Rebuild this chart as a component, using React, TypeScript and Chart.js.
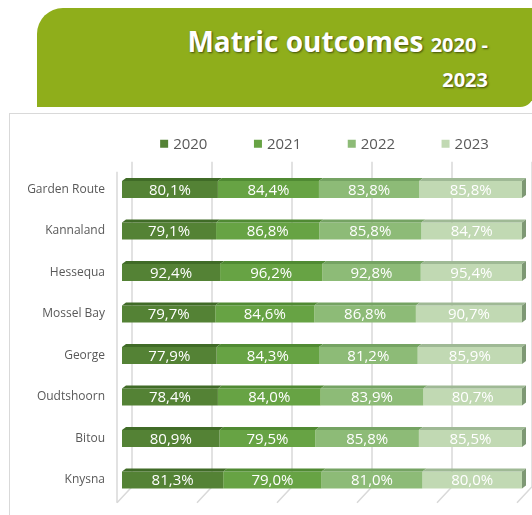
import React, { useEffect, useRef } from 'react';
import { Chart, registerables } from 'chart.js';

Chart.register(...registerables);

const categories = ['Garden Route', 'Kannaland', 'Hessequa', 'Mossel Bay', 'George', 'Oudtshoorn', 'Bitou', 'Knysna'];
const seriesLabels = ['2020', '2021', '2022', '2023'];
const v2020 = [80.1, 79.1, 92.4, 79.7, 77.9, 78.4, 80.9, 81.3];
const v2021 = [84.4, 86.8, 96.2, 84.6, 84.3, 84.0, 79.5, 79.0];
const v2022 = [83.8, 85.8, 92.8, 86.8, 81.2, 83.9, 85.8, 81.0];
const v2023 = [85.8, 84.7, 95.4, 90.7, 85.9, 80.7, 85.5, 80.0];
const gridTicks = [0, 20, 40, 60, 80, 100];

const seriesValues = [v2020, v2021, v2022, v2023];
const frontColors = ['#548235', '#67a344', '#8dbb77', '#c1d9b3'];
const topColors = ['#406b27', '#508a33', '#75a363', '#9fb995'];
const sideColor = '#7e9874';
const FONT = "'Open Sans', 'DejaVu Sans', sans-serif";

const totals = categories.map((_, i) => seriesValues.reduce((s, arr) => s + arr[i], 0));
const fmt = (v: number) => v.toFixed(1).replace('.', ',') + '%';

const bar3dPlugin = {
  id: 'bar3d',
  beforeDatasetsDraw(chart: any) {
    const { ctx, chartArea, scales } = chart;
    const x = scales.x;
    ctx.save();
    ctx.strokeStyle = '#d9d9d9';
    ctx.lineWidth = 1.5;
    gridTicks.forEach((t) => {
      const xf = x.getPixelForValue(t);
      ctx.beginPath();
      ctx.moveTo(xf + 10, chartArea.top - 7);
      ctx.lineTo(xf + 10, chartArea.bottom - 14);
      ctx.lineTo(xf - 5, chartArea.bottom + 2);
      ctx.stroke();
    });
    const x0 = x.getPixelForValue(0);
    ctx.beginPath();
    ctx.moveTo(x0 - 5, chartArea.top + 3);
    ctx.lineTo(x0 - 5, chartArea.bottom + 2);
    ctx.stroke();
    ctx.restore();
  },
  afterDatasetsDraw(chart: any) {
    const { ctx } = chart;
    const n = chart.data.datasets.length;
    ctx.save();
    for (let d = 0; d < n; d++) {
      const meta = chart.getDatasetMeta(d);
      meta.data.forEach((el: any) => {
        const p = el.getProps(['x', 'y', 'base', 'height'], true);
        const l = Math.min(p.x, p.base);
        const r = Math.max(p.x, p.base);
        const top = p.y - p.height / 2;
        const bot = p.y + p.height / 2;
        ctx.fillStyle = topColors[d];
        ctx.beginPath();
        ctx.moveTo(l, top);
        ctx.lineTo(r, top);
        ctx.lineTo(r + 4, top - 3);
        ctx.lineTo(l + 4, top - 3);
        ctx.closePath();
        ctx.fill();
        if (d === n - 1) {
          ctx.fillStyle = sideColor;
          ctx.beginPath();
          ctx.moveTo(r, top);
          ctx.lineTo(r + 4, top - 3);
          ctx.lineTo(r + 4, bot - 3);
          ctx.lineTo(r, bot);
          ctx.closePath();
          ctx.fill();
        }
      });
    }
    ctx.fillStyle = '#ffffff';
    ctx.font = `15px ${FONT}`;
    ctx.textAlign = 'center';
    ctx.textBaseline = 'middle';
    for (let d = 0; d < n; d++) {
      const meta = chart.getDatasetMeta(d);
      meta.data.forEach((el: any, i: number) => {
        const p = el.getProps(['x', 'y', 'base'], true);
        ctx.fillText(fmt(seriesValues[d][i]), (p.x + p.base) / 2, p.y + 1);
      });
    }
    ctx.restore();
  },
  afterDraw(chart: any) {
    const { ctx, chartArea } = chart;
    const datasets = chart.data.datasets;
    ctx.save();
    ctx.font = `15px ${FONT}`;
    ctx.textBaseline = 'middle';
    ctx.textAlign = 'left';
    const box = 8;
    const gapText = 5;
    const gap = 46.5;
    const widths = datasets.map((ds: any) => box + gapText + ctx.measureText(ds.label).width);
    const total = widths.reduce((a: number, b: number) => a + b, 0) + gap * (datasets.length - 1);
    let cx = (chartArea.left + chartArea.right) / 2 + 2.5 - total / 2;
    const cy = chartArea.top - 25;
    datasets.forEach((ds: any, i: number) => {
      ctx.fillStyle = ds.backgroundColor;
      ctx.fillRect(cx, cy - box / 2, box, box);
      ctx.fillStyle = '#595959';
      ctx.fillText(ds.label, cx + box + gapText, cy + 0.5);
      cx += widths[i] + gap;
    });
    ctx.restore();
  },
};

export default function App() {
  const ref = useRef<HTMLCanvasElement | null>(null);
  useEffect(() => {
    if (!ref.current) return;
    const chart = new Chart(ref.current, {
      type: 'bar',
      data: {
        labels: categories,
        datasets: seriesValues.map((arr, d) => ({
          label: seriesLabels[d],
          data: arr.map((v, i) => (v / totals[i]) * 100),
          backgroundColor: frontColors[d],
          borderWidth: 0,
          barPercentage: 0.41,
          categoryPercentage: 1,
        })),
      },
      options: {
        indexAxis: 'y',
        responsive: false,
        maintainAspectRatio: false,
        animation: false,
        layout: { padding: { top: 55.75, bottom: 14.25, right: 10, left: 0 } },
        plugins: { legend: { display: false }, tooltip: { enabled: false } },
        scales: {
          x: { display: false, stacked: true, min: 0, max: 100 },
          y: {
            stacked: true,
            grid: { display: false, drawTicks: true, tickLength: 17 },
            border: { display: false },
            ticks: { color: '#595959', font: { family: FONT, size: 12 }, padding: 0 },
            afterFit: (s: any) => {
              s.width = 113;
            },
          },
        },
      },
      plugins: [bar3dPlugin],
    } as any);
    return () => chart.destroy();
  }, []);

  return (
    <div style={{ position: 'fixed', left: 0, top: 0, width: 532, height: 515, overflow: 'hidden', background: '#ffffff' }}>
      <div
        style={{
          position: 'absolute',
          left: 37,
          top: 8,
          width: 497,
          height: 99,
          background: '#8fae1b',
          borderRadius: '26px 0 14px 0',
        }}
      />
      <div
        style={{
          position: 'absolute',
          right: 44,
          top: 25,
          textAlign: 'right',
          color: '#ffffff',
          fontFamily: FONT,
          fontWeight: 700,
          textShadow: '1px 1px 2px rgba(0,0,0,0.55)',
          lineHeight: '33px',
          whiteSpace: 'nowrap',
        }}
      >
        <div>
          <span style={{ fontSize: 28 }}>Matric outcomes </span>
          <span style={{ fontSize: 20 }}>2020 -</span>
        </div>
        <div style={{ fontSize: 20 }}>2023</div>
      </div>
      <div
        style={{
          position: 'absolute',
          left: 9,
          top: 113,
          width: 540,
          height: 420,
          border: '1px solid #d9d9d9',
          boxSizing: 'border-box',
        }}
      />
      <canvas ref={ref} width={523} height={402} style={{ position: 'absolute', left: 9, top: 113, width: 523, height: 402 }} />
    </div>
  );
}
